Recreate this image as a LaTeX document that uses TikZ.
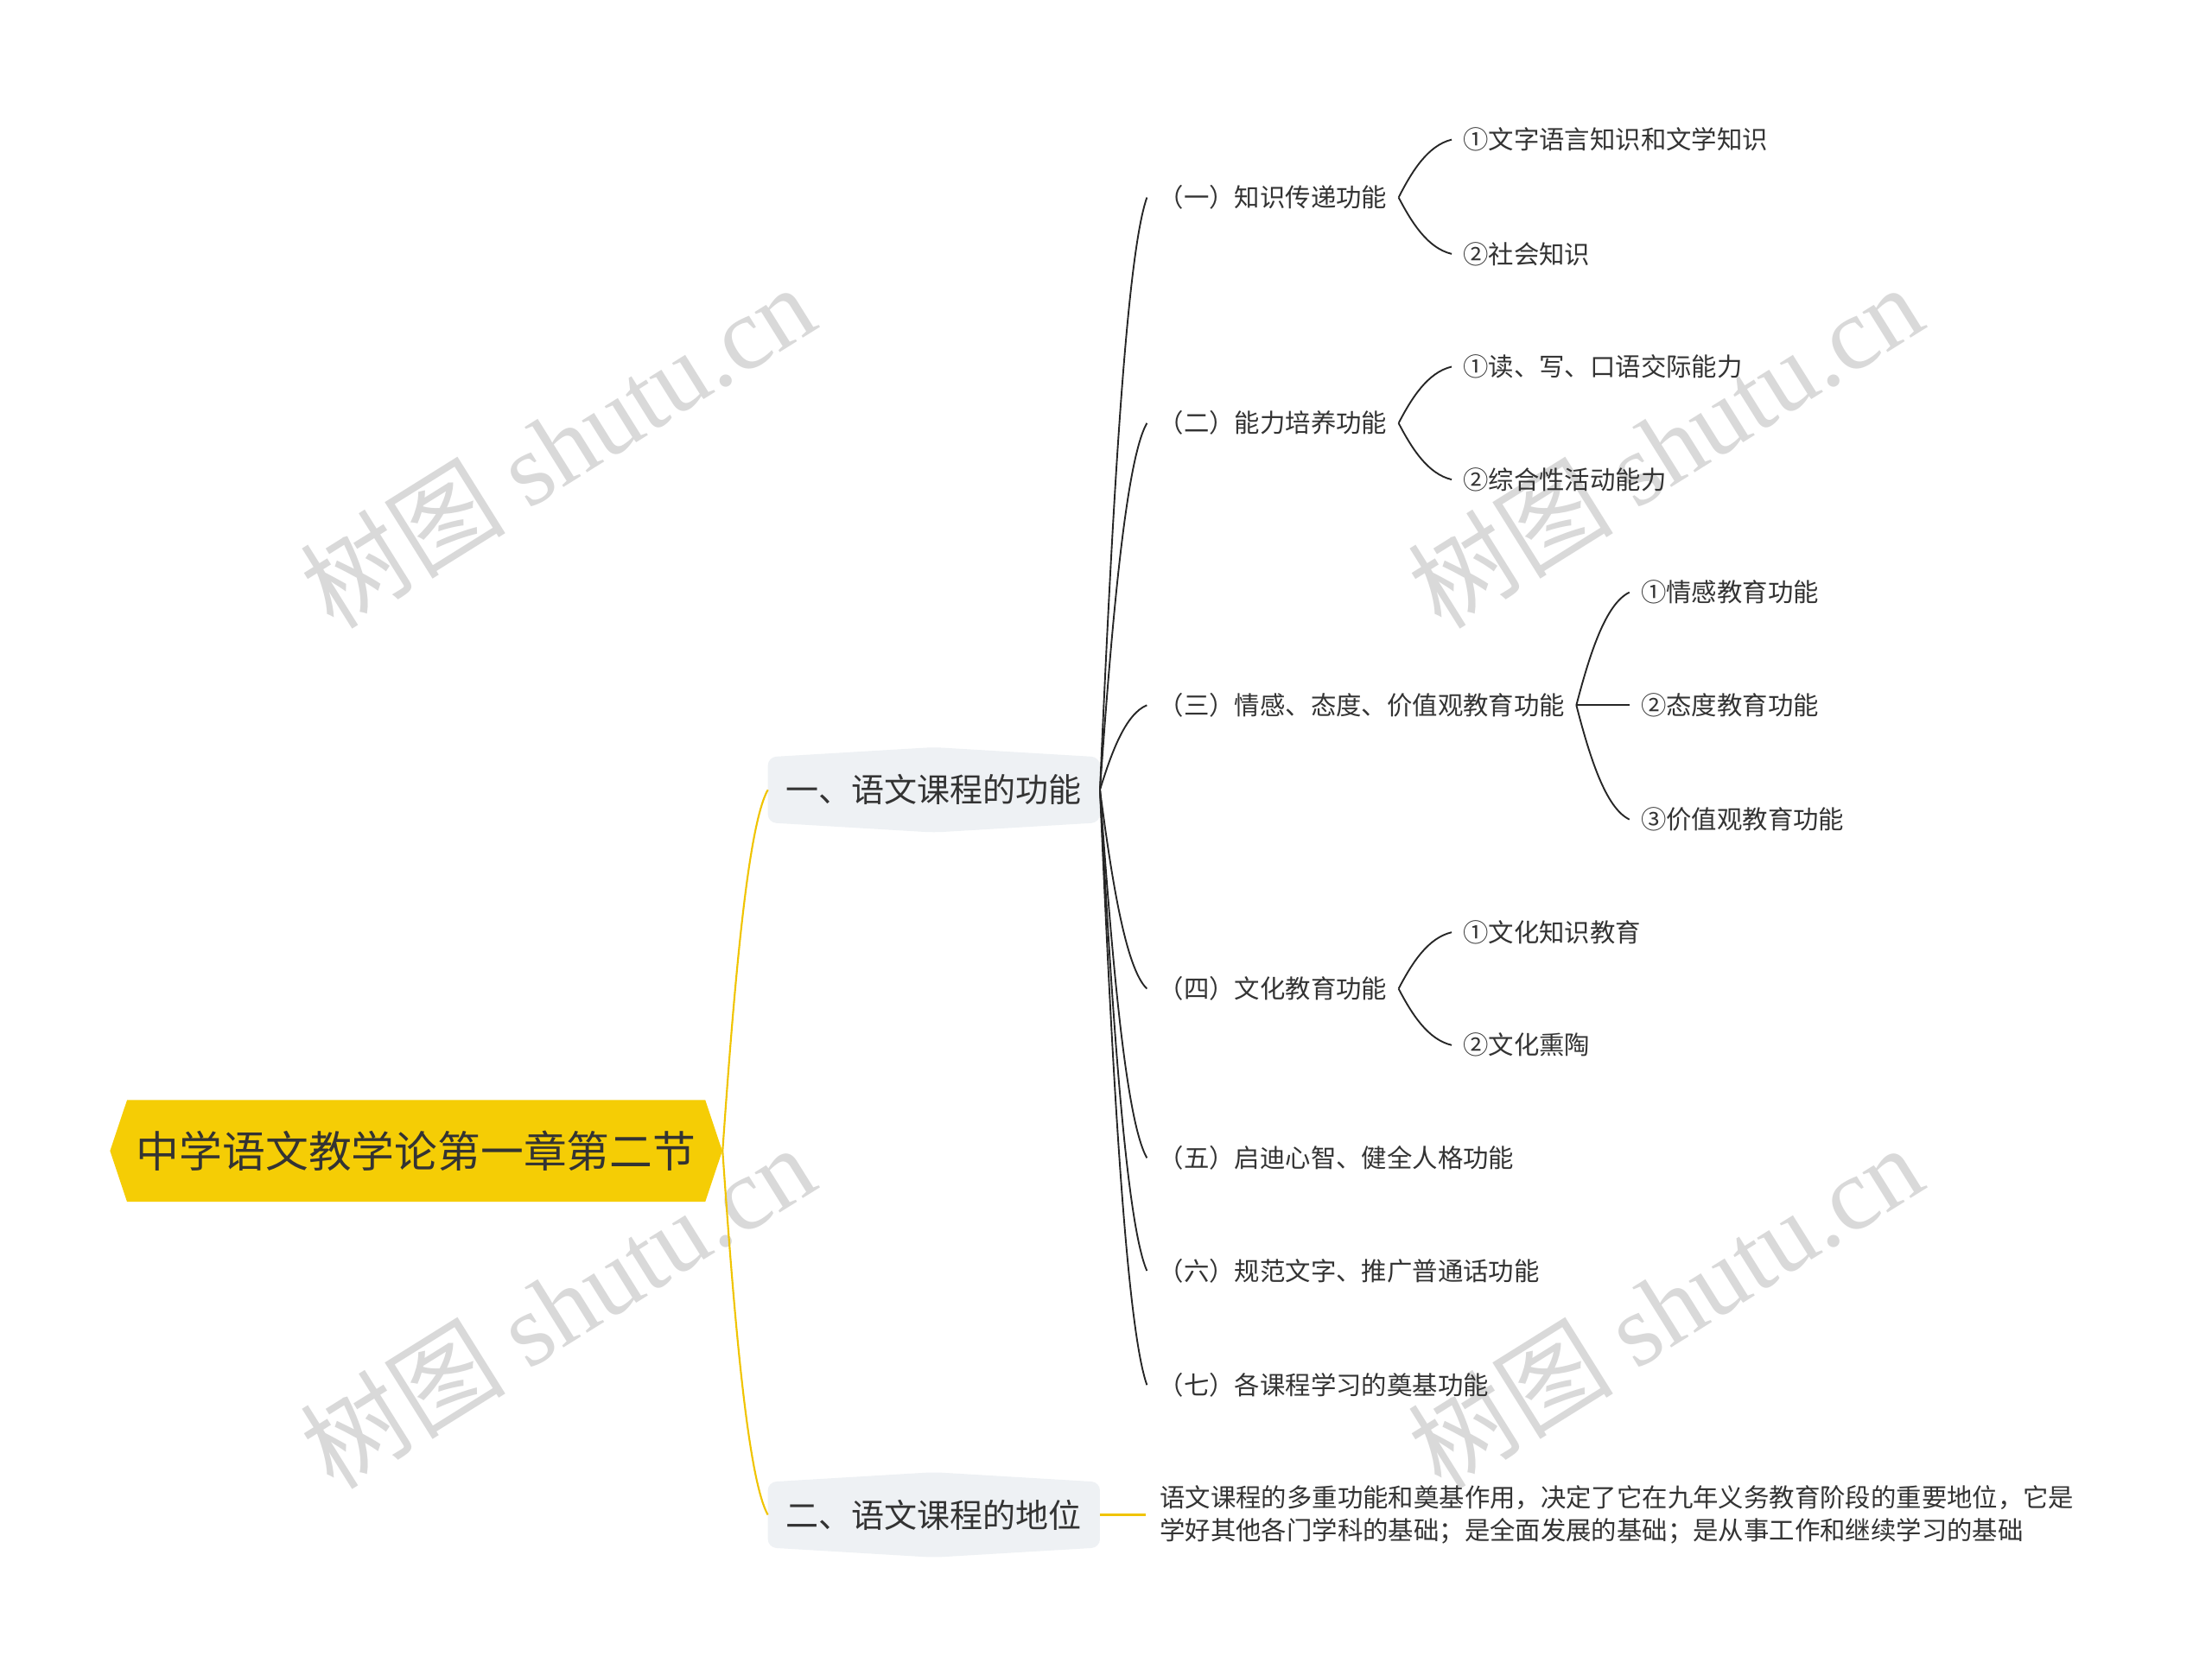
\documentclass[tikz,border=0pt]{standalone}
\usepackage{fontspec}
\setmainfont{Noto Sans CJK SC}
\newfontfamily\wmlatin{Liberation Serif}
\usetikzlibrary{shapes.symbols,calc,backgrounds}
\definecolor{txt}{HTML}{333333}
\definecolor{lnk}{HTML}{262626}
\definecolor{rootfill}{HTML}{F5CD05}
\definecolor{rootline}{HTML}{F0C400}
\definecolor{lvlfill}{HTML}{EEF1F4}
\definecolor{wm}{HTML}{D9D9D9}
\begin{document}
\begin{tikzpicture}[x=1pt,y=-1pt,
  rootnode/.style={signal, signal to=west and east, signal pointer angle=143,
    fill=rootfill, minimum width=434pt, minimum height=72pt, inner sep=0pt,
    font=\fontsize{30.5}{36}\selectfont, text=txt},
  lvlone/.style={minimum width=235pt, minimum height=46pt, inner sep=0pt,
    font=\fontsize{23.3}{28}\selectfont, text=txt},
  lvltwo/.style={anchor=west, inner xsep=8pt, inner ysep=4pt,
    font=\fontsize{18}{22}\selectfont, text=txt},
  para/.style={anchor=west, inner xsep=10pt, inner ysep=4pt, align=left,
    font=\fontsize{18}{23}\selectfont, text=txt},
  wmark/.style={text=wm, rotate=32, font=\fontsize{73}{80}\selectfont},
  link/.style={to path={let \p1=(\tikztostart),\p2=(\tikztotarget) in
    .. controls ({\x1+0.25*(\x2-\x1)},{\y1+0.45*(\y2-\y1)})
    and ({\x2-0.45*(\x2-\x1)},{\y2-0.1*(\y2-\y1)}) .. (\tikztotarget)}},
  blk/.style={draw=lnk, line width=1.15pt},
  ylw/.style={draw=rootline, line width=1.3pt}
]
\useasboundingbox (0,0) rectangle (1568,1183);

% watermarks
\node[wmark] (w1) at (395,316) {树图 {\wmlatin shutu.cn}};
\node[wmark] (w2) at (1180,316) {树图 {\wmlatin shutu.cn}};
\node[wmark] (w3) at (395,926) {树图 {\wmlatin shutu.cn}};
\node[wmark] (w4) at (1180,926) {树图 {\wmlatin shutu.cn}};

% root
\node[rootnode] (root) at (295,816) {中学语文教学论第一章第二节};

% level 1
\node[lvlone] (a) at (662,560) {一、语文课程的功能};
\node[lvlone] (b) at (662,1074) {二、语文课程的地位};
\begin{pgfonlayer}{background}
  \fill[white] (0,0) rectangle (1568,1183);
  \foreach \n in {a,b}{
    \fill[lvlfill, rounded corners=6pt] (\n.north west) -- ([yshift=7pt]\n.north)
      -- (\n.north east) -- (\n.south east) -- ([yshift=-7pt]\n.south)
      -- (\n.south west) -- cycle;
  }
\end{pgfonlayer}

% level 2
\node[lvltwo] (b1) at (813,140) {（一）知识传递功能};
\node[lvltwo] (b2) at (813,300) {（二）能力培养功能};
\node[lvltwo] (b3) at (813,500) {（三）情感、态度、价值观教育功能};
\node[lvltwo] (b4) at (813,701) {（四）文化教育功能};
\node[lvltwo] (b5) at (813,821) {（五）启迪心智、健全人格功能};
\node[lvltwo] (b6) at (813,901) {（六）规范文字、推广普通话功能};
\node[lvltwo] (b7) at (813,982) {（七）各课程学习的奠基功能};

% level 3
\node[lvltwo] (c11) at (1029,99) {①文字语言知识和文学知识};
\node[lvltwo] (c12) at (1029,180) {②社会知识};
\node[lvltwo] (c21) at (1029,260) {①读、写、口语交际能力};
\node[lvltwo] (c22) at (1029,340) {②综合性活动能力};
\node[lvltwo] (c31) at (1155,420) {①情感教育功能};
\node[lvltwo] (c32) at (1155,500) {②态度教育功能};
\node[lvltwo] (c33) at (1155,581) {③价值观教育功能};
\node[lvltwo] (c41) at (1029,661) {①文化知识教育};
\node[lvltwo] (c42) at (1029,741) {②文化熏陶};

% paragraph
\node[para] (p) at (812,1074) {语文课程的多重功能和奠基作用，决定了它在九年义务教育阶段的重要地位，它是\\学好其他各门学科的基础；是全面发展的基础；是从事工作和继续学习的基础};

% connectors
\draw[ylw] (root.east) to[link] (a.west);
\draw[ylw] (root.east) to[link] (b.west);
\draw[ylw] (b.east) -- (p.west);

\foreach \t in {b1,b2,b3,b4,b5,b6,b7}{
  \draw[blk] (a.east) to[link] (\t.west);
}
\draw[blk] (b1.east) to[link] (c11.west);
\draw[blk] (b1.east) to[link] (c12.west);
\draw[blk] (b2.east) to[link] (c21.west);
\draw[blk] (b2.east) to[link] (c22.west);
\draw[blk] (b3.east) to[link] (c31.west);
\draw[blk] (b3.east) -- (c32.west);
\draw[blk] (b3.east) to[link] (c33.west);
\draw[blk] (b4.east) to[link] (c41.west);
\draw[blk] (b4.east) to[link] (c42.west);
\end{tikzpicture}
\end{document}
